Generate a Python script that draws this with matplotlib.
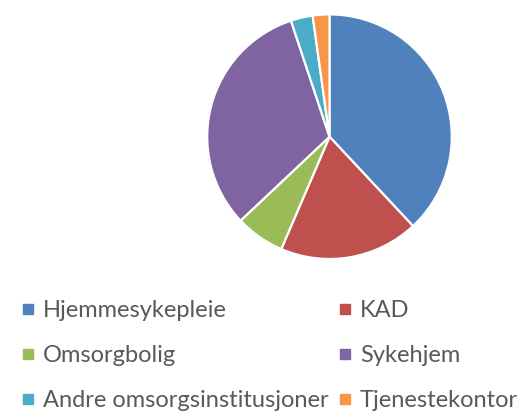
import matplotlib.pyplot as plt
from matplotlib.lines import Line2D

labels = ["Hjemmesykepleie", "KAD", "Omsorgbolig", "Sykehjem",
          "Andre omsorgsinstitusjoner", "Tjenestekontor"]
values = [38.0, 18.4, 6.5, 31.9, 2.9, 2.2]
colors = ["#4F81BD", "#C0504D", "#9BBB59", "#8064A2", "#4BACC6", "#F79646"]

W, H = 521, 411
fig = plt.figure(figsize=(W / 100, H / 100), dpi=100)

cx, cy, r = 329.5, 136.7, 123.5
ax = fig.add_axes([(cx - r) / W, 1 - (cy + r) / H, 2 * r / W, 2 * r / H])
ax.pie(values, colors=colors, startangle=90, counterclock=False,
       wedgeprops=dict(edgecolor="white", linewidth=1.6))
ax.set_xlim(-1.01, 1.01)
ax.set_ylim(-1.01, 1.01)
ax.set_aspect("equal")
ax.axis("off")

# legend is filled row by row in the original, matplotlib fills columns
order = [0, 2, 4, 1, 3, 5]
handles = [Line2D([], [], marker="s", linestyle="", markersize=6.5,
                  markerfacecolor=colors[i], markeredgecolor=colors[i]) for i in order]
fig.legend(handles, [labels[i] for i in order], ncol=2, loc="upper left",
           bbox_to_anchor=(22.5 / W, 1 - 300 / H), frameon=False,
           prop=dict(family="Lato", size=17), labelcolor="#595959",
           handlelength=0.45, handletextpad=0.4, columnspacing=0.5,
           labelspacing=1.02, borderpad=0, borderaxespad=0)

fig.savefig("out.png", dpi=100)
